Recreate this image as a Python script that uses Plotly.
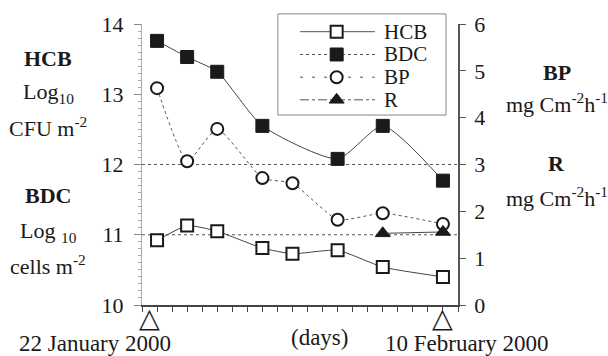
import plotly.graph_objects as go

# ---- data ----
days_hcb = [1, 3, 5, 8, 10, 13, 16, 20]
hcb = [10.92, 11.13, 11.05, 10.81, 10.73, 10.78, 10.54, 10.40]
days_bdc = [1, 3, 5, 8, 13, 16, 20]
bdc = [13.76, 13.53, 13.32, 12.55, 12.08, 12.55, 11.77]
days_bp = [1, 3, 5, 8, 10, 13, 16, 20]
bp = [4.63, 3.07, 3.76, 2.71, 2.60, 1.82, 1.96, 1.73]
days_r = [16, 20]
r = [1.53, 1.56]
marker_days = [0.5, 20]
ref_levels = [11, 12]
left_ticks = [10, 11, 12, 13, 14]
right_ticks = [0, 1, 2, 3, 4, 5, 6]
series_names = ["HCB", "BDC", "BP", "R"]

FONT = "Times New Roman, Liberation Serif, Times, serif"
INK = "#1a1a1a"

styles = {
    "HCB": dict(marker=dict(symbol="square", size=12, color="white", line=dict(color=INK, width=2)),
                line=dict(color="#444", width=1, shape="spline", smoothing=0.5), legdash="solid"),
    "BDC": dict(marker=dict(symbol="square", size=13, color=INK, line=dict(color=INK, width=1)),
                line=dict(color="#444", width=1, shape="spline", smoothing=0.6), legdash="dot"),
    "BP": dict(marker=dict(symbol="circle", size=12, color="white", line=dict(color=INK, width=2)),
               line=dict(color="#555", width=1, dash="dot", shape="spline", smoothing=0.5), legdash="3px,9px"),
    "R": dict(marker=dict(symbol="triangle-up", size=13, color=INK, line=dict(color=INK, width=1)),
              line=dict(color="#444", width=1), legdash="dashdot"),
}
series = {
    "HCB": (days_hcb, hcb, "y"),
    "BDC": (days_bdc, bdc, "y"),
    "BP": (days_bp, bp, "y2"),
    "R": (days_r, r, "y2"),
}

fig = go.Figure()
for name in series_names:
    xs, ys, ax = series[name]
    st = styles[name]
    fig.add_trace(go.Scatter(x=xs, y=ys, name=name, mode="lines+markers", yaxis=ax,
                             line=st["line"], marker=st["marker"], showlegend=False))

# ---- hand-built legend (wide line samples as in the reference) ----
leg_x0, leg_x1, leg_y0, leg_y1 = 0.430, 0.962, 0.676, 1.036
row_y = [0.9726, 0.8915, 0.8107, 0.7302]
line_x0, line_x1, mark_x, text_x = 0.50, 0.737, 0.616, 0.759

shapes = [dict(type="rect", xref="paper", yref="paper", x0=leg_x0, x1=leg_x1, y0=leg_y0, y1=leg_y1,
               line=dict(color="#888", width=1), fillcolor="white", layer="below")]
for lv in ref_levels:
    shapes.append(dict(type="line", xref="paper", x0=0, x1=1, yref="y", y0=lv, y1=lv,
                       line=dict(color="#555", width=1, dash="dot"), layer="below"))
for name, ry in zip(series_names, row_y):
    shapes.append(dict(type="line", xref="paper", yref="paper", x0=line_x0, x1=line_x1, y0=ry, y1=ry,
                       line=dict(color="#555", width=1, dash=styles[name]["legdash"]), layer="below"))
    st = styles[name]
    fig.add_trace(go.Scatter(x=[mark_x], y=[ry], xaxis="x2", yaxis="y3", mode="markers",
                             marker=st["marker"], showlegend=False, cliponaxis=False,
                             hoverinfo="skip"))

def ann(text, x, y, size=22, xanchor="center", xref="paper", **kw):
    return dict(text=text, x=x, y=y, xref=xref, yref="paper", showarrow=False,
                xanchor=xanchor, yanchor="middle", font=dict(family=FONT, size=size, color=INK), **kw)

annotations = [
    ann("<b>HCB</b>", -0.297, 0.879),
    ann("Log<sub>10</sub>", -0.297, 0.754),
    ann("CFU m<sup>-2</sup>", -0.297, 0.633),
    ann("<b>BDC</b>", -0.297, 0.388),
    ann("Log <sub>10</sub>", -0.297, 0.260),
    ann("cells m<sup>-2</sup>", -0.297, 0.142),
    ann("<b>BP</b>", 1.313, 0.829),
    ann("mg Cm<sup>-2</sup>h<sup>-1</sup>", 1.313, 0.719),
    ann("<b>R</b>", 1.313, 0.502),
    ann("mg Cm<sup>-2</sup>h<sup>-1</sup>", 1.313, 0.384),
    ann("22 January 2000", -0.149, -0.138, size=23),
    ann("(days)", 0.563, -0.117, size=23),
    ann("10 February 2000", 1.028, -0.138, size=23),
]
for name, ry in zip(series_names, row_y):
    annotations.append(ann(name, text_x, ry, size=21, xanchor="left"))
for d in marker_days:
    annotations.append(dict(text="△", x=d, xref="x", y=-0.046, yref="paper", showarrow=False,
                            xanchor="center", yanchor="middle",
                            font=dict(family="DejaVu Sans", size=27, color=INK)))

fig.update_layout(
    width=608, height=356,
    margin=dict(l=142, r=150, t=24, b=51),
    paper_bgcolor="white", plot_bgcolor="white",
    font=dict(family=FONT, size=21, color=INK),
    showlegend=False,
    xaxis=dict(range=[0, 21], dtick=1, tick0=0, ticks="outside", ticklen=5, tickcolor="#444",
               showticklabels=False, showline=True, linecolor="#444", linewidth=1.5,
               showgrid=False, zeroline=False),
    xaxis2=dict(range=[0, 1], overlaying="x", visible=False),
    yaxis=dict(range=[10, 14], tickvals=left_ticks, ticks="outside", ticklen=7, tickcolor="#888",
               showline=True, linecolor="#aaa", linewidth=1, showgrid=False, zeroline=False,
               ticklabelstandoff=6,
               tickfont=dict(family=FONT, size=22, color=INK),
               minor=dict(dtick=0.1, ticks="outside", ticklen=3, tickcolor="#aaa")),
    yaxis2=dict(range=[0, 6], tickvals=right_ticks, overlaying="y", side="right", anchor="x",
                ticks="outside", ticklen=6, tickcolor="#555", showline=True, linecolor="#555",
                linewidth=1.5, showgrid=False, zeroline=False, ticklabelstandoff=4,
                tickfont=dict(family=FONT, size=22, color=INK)),
    yaxis3=dict(range=[0, 1], overlaying="y", visible=False),
    shapes=shapes,
    annotations=annotations,
)

fig.write_html("out.html")
